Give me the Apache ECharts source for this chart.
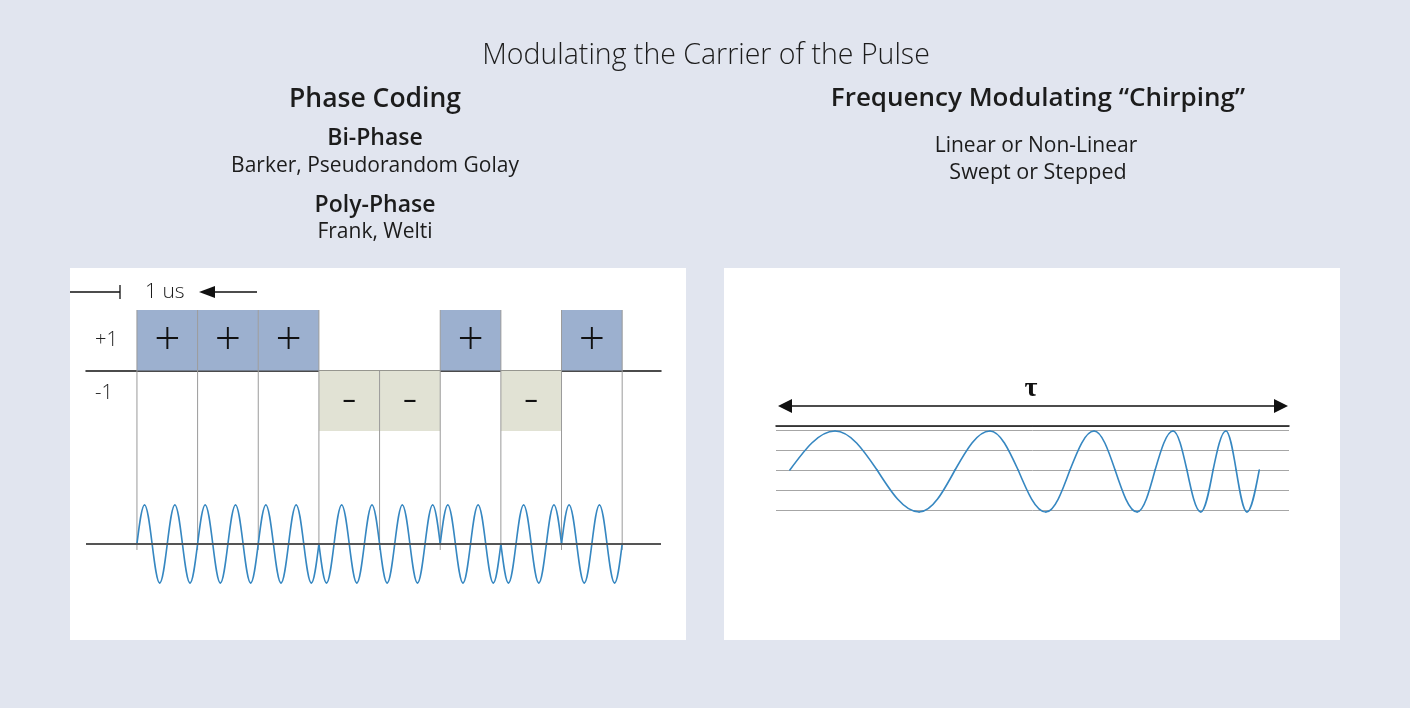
<!DOCTYPE html>
<html>
<head>
<meta charset="utf-8">
<script src="https://cdn.jsdelivr.net/npm/echarts@6/dist/echarts.min.js"></script>
<style>
html,body{margin:0;padding:0;background:#e1e5ef;}
#c{width:1410px;height:708px;}
</style>
</head>
<body>
<div id="c"></div>
<script>
// ---------- texts ----------
const chartTitle = 'Modulating the Carrier of the Pulse';
const phaseHeading = 'Phase Coding';
const phaseSubheads = ['Bi-Phase', 'Poly-Phase'];
const phaseExamples = ['Barker, Pseudorandom Golay', 'Frank, Welti'];
const chirpHeading = 'Frequency Modulating \u201cChirping\u201d';
const chirpLines = ['Linear or Non-Linear', 'Swept or Stepped'];
const levelLabels = ['+1', '-1'];
const chipLabel = '1 us';
const pulseLabel = '\u03c4';

// ---------- phase code (bi-phase, one value per 1 us chip) ----------
const code = [1, 1, 1, -1, -1, 1, -1, 1];
const chipSymbols = { '1': '+', '-1': '-' };
// key points of one carrier cycle: zero, crest, zero, trough
const carrierCycle = [0, 1, 0, -1];
const cyclesPerChip = 2;

// ---------- chirp key points (x: % of pulse width tau, y: amplitude) ----------
const chirpT = [2.7, 11.5, 19.7, 27.9, 34.9, 41.7, 47.2, 52.6, 57.3, 62.0, 66.1,
                70.4, 73.9, 77.4, 80.1, 82.8, 85.2, 87.7, 89.7, 91.8, 94.2];
const chirpA = [0, 1.95, 0, -2.1, 0, 1.95, 0, -2.1, 0, 1.95, 0,
                -2.1, 0, 1.95, 0, -2.1, 0, 1.95, 0, -2.1, 0];

// ---------- layout / style constants ----------
const FONT = '"Open Sans", "Liberation Sans", sans-serif';
const WAVE_BASE = -2.87;
const WAVE_AMP = 0.645;
const LINE_BOTTOM = -2.97;
const BLUE = '#9cb0cf';
const BEIGE = '#e1e2d4';
const WAVE = '#3687c1';

// ---------- derived series data ----------
const chipData = code.map((v, i) => [i, v]);
const boundaryData = [];
for (let j = 0; j <= code.length; j++) {
  const top = ((code[j - 1] || 0) > 0 || (code[j] || 0) > 0) ? 1 : 0;
  boundaryData.push([j, top]);
}
const carrierPts = [];
const ptsPerChip = carrierCycle.length * cyclesPerChip;
code.forEach((v, i) => {
  for (let k = 0; k < ptsPerChip; k++) {
    carrierPts.push([i + k / ptsPerChip, WAVE_BASE + WAVE_AMP * v * carrierCycle[k % carrierCycle.length]]);
  }
});
carrierPts.push([code.length, WAVE_BASE]);
const chirpPts = chirpT.map((t, i) => [t, chirpA[i]]);

// consecutive key points -> quarter-wave segments [x0, y0, x1, y1, midline]
function toSegments(pts, mid) {
  const out = [];
  for (let i = 0; i < pts.length - 1; i++) {
    out.push([pts[i][0], pts[i][1], pts[i + 1][0], pts[i + 1][1], mid]);
  }
  return out;
}
const carrierSegs = toSegments(carrierPts, WAVE_BASE);
const chirpSegs = toSegments(chirpPts, 0);

// draws one quarter of a sine wave between a zero crossing and a crest/trough
function quarterWave(params, api) {
  const x0 = api.value(0), y0 = api.value(1), x1 = api.value(2), y1 = api.value(3), mid = api.value(4);
  const p0 = api.coord([x0, y0]), p1 = api.coord([x1, y1]);
  const dx = p1[0] - p0[0], dy = p1[1] - p0[1];
  let c1, c2;
  if (Math.abs(y0 - mid) < 1e-9) {
    c1 = [p0[0] + 0.3258 * dx, p0[1] + 0.5118 * dy];
    c2 = [p0[0] + 0.6381 * dx, p1[1]];
  } else {
    c1 = [p0[0] + 0.3619 * dx, p0[1]];
    c2 = [p0[0] + 0.6742 * dx, p1[1] - 0.5118 * dy];
  }
  return { type: 'bezierCurve',
    shape: { x1: p0[0], y1: p0[1], x2: p1[0], y2: p1[1], cpx1: c1[0], cpy1: c1[1], cpx2: c2[0], cpy2: c2[1] },
    style: { stroke: WAVE, lineWidth: 1.6, fill: null, lineCap: 'round' } };
}

function txt(text, x, y, size, weight) {
  return {
    type: 'text', x: x, y: y, silent: true,
    style: { text: text, fontSize: size, fontWeight: weight, fontFamily: FONT,
             fill: '#1c1c1c', align: 'center', verticalAlign: 'middle' }
  };
}

const chart = echarts.init(document.getElementById('c'), null, { renderer: 'canvas' });

const option = {
  backgroundColor: '#e1e5ef',
  animation: false,
  grid: [
    { left: 86, top: 310, width: 575, height: 272 },
    { left: 776, top: 426, width: 513, height: 84 }
  ],
  xAxis: [
    { gridIndex: 0, type: 'value', min: -0.84, max: 8.64,
      axisLine: { show: true, onZero: true, lineStyle: { color: '#111', width: 1.5 } },
      axisTick: { show: false }, axisLabel: { show: false }, splitLine: { show: false } },
    { gridIndex: 1, type: 'value', min: 0, max: 100, position: 'top',
      axisLine: { show: true, onZero: false, lineStyle: { color: '#111', width: 1.5 } },
      axisTick: { show: false }, axisLabel: { show: false }, splitLine: { show: false } }
  ],
  yAxis: [
    { gridIndex: 0, type: 'value', min: -3.5, max: 1, interval: 0.125,
      axisLine: { show: false }, axisTick: { show: false }, splitLine: { show: false },
      axisLabel: { show: true, inside: true, margin: 9, fontSize: 20, fontWeight: 300,
        fontFamily: FONT, color: '#222',
        formatter: function (v) {
          if (Math.abs(v - 0.5) < 1e-6) return levelLabels[0];
          if (Math.abs(v + 0.375) < 1e-6) return levelLabels[1];
          return '';
        } } },
    { gridIndex: 1, type: 'value', min: -2, max: 2.2, interval: 1,
      axisLine: { show: false }, axisTick: { show: false }, axisLabel: { show: false },
      splitLine: { show: true, lineStyle: { color: '#a6a6a6', width: 1 } } }
  ],
  series: [
    {
      name: 'chips', type: 'custom', xAxisIndex: 0, yAxisIndex: 0, z: 2,
      data: chipData,
      renderItem: function (params, api) {
        const i = api.value(0), v = api.value(1);
        const p0 = api.coord([i, 0]), p1 = api.coord([i + 1, v]);
        const x = p0[0], w = p1[0] - p0[0];
        const y = Math.min(p0[1], p1[1]), h = Math.abs(p1[1] - p0[1]);
        return { type: 'group', children: [
          { type: 'rect', shape: { x: x, y: y, width: w, height: h },
            style: { fill: v > 0 ? BLUE : BEIGE } },
          { type: 'text', style: { text: chipSymbols[String(v)], x: x + w / 2, y: y + h / 2 + (v > 0 ? 1 : -1),
            align: 'center', verticalAlign: 'middle', fontSize: 46, fontWeight: 300,
            fontFamily: FONT, fill: '#111' } }
        ] };
      }
    },
    {
      name: 'boundaries', type: 'custom', xAxisIndex: 0, yAxisIndex: 0, z: 3,
      data: boundaryData,
      renderItem: function (params, api) {
        const j = api.value(0), top = api.value(1);
        const a = api.coord([j, top]), b = api.coord([j, LINE_BOTTOM]);
        return { type: 'line', shape: { x1: a[0], y1: a[1], x2: b[0], y2: b[1] },
          style: { stroke: '#9a9a9a', lineWidth: 1 } };
      }
    },
    {
      name: 'carrier', type: 'custom', xAxisIndex: 0, yAxisIndex: 0, z: 4,
      encode: { x: [0, 2], y: [1, 3] },
      data: carrierSegs, renderItem: quarterWave, clip: false,
      markLine: { silent: true, symbol: 'none', label: { show: false },
        lineStyle: { color: '#555', width: 2, type: 'solid' },
        data: [{ yAxis: WAVE_BASE }] }
    },
    {
      name: 'chirp', type: 'custom', xAxisIndex: 1, yAxisIndex: 1, z: 4,
      encode: { x: [0, 2], y: [1, 3] },
      data: chirpSegs, renderItem: quarterWave, clip: false
    }
  ],
  graphic: [
    { type: 'rect', z: -10, silent: true, shape: { x: 70, y: 268, width: 616, height: 372 }, style: { fill: '#fff' } },
    { type: 'rect', z: -10, silent: true, shape: { x: 724, y: 268, width: 616, height: 372 }, style: { fill: '#fff' } },
    txt(chartTitle, 706, 56, 28.5, 300),
    txt(phaseHeading, 375, 99, 26.5, 600),
    txt(phaseSubheads[0], 375, 138, 23, 600),
    txt(phaseExamples[0], 375, 166, 21, 400),
    txt(phaseSubheads[1], 375, 205, 23, 600),
    txt(phaseExamples[1], 375, 232, 21, 400),
    txt(chirpHeading, 1038, 99, 26, 600),
    txt(chirpLines[0], 1036, 146, 21, 400),
    txt(chirpLines[1], 1038, 173, 21.5, 400),
    // 1 us dimension marker
    { type: 'line', silent: true, shape: { x1: 70, y1: 292, x2: 120, y2: 292 }, style: { stroke: '#111', lineWidth: 1.3 } },
    { type: 'line', silent: true, shape: { x1: 120, y1: 285, x2: 120, y2: 299 }, style: { stroke: '#111', lineWidth: 1.3 } },
    { type: 'text', silent: true, x: 145, y: 292, style: { text: chipLabel, fontSize: 21, fontWeight: 300,
      fontFamily: FONT, fill: '#1c1c1c', align: 'left', verticalAlign: 'middle' } },
    { type: 'polygon', silent: true, shape: { points: [[199, 292], [215, 286], [215, 298]] }, style: { fill: '#111' } },
    { type: 'line', silent: true, shape: { x1: 214, y1: 292, x2: 257, y2: 292 }, style: { stroke: '#111', lineWidth: 1.3 } },
    // pulse width tau arrow
    { type: 'text', silent: true, x: 1031, y: 389, style: { text: pulseLabel, fontSize: 28, fontWeight: 'bold',
      fontFamily: '"Liberation Serif", "DejaVu Serif", serif', fill: '#111', align: 'center', verticalAlign: 'middle' } },
    { type: 'line', silent: true, shape: { x1: 790, y1: 406, x2: 1276, y2: 406 }, style: { stroke: '#111', lineWidth: 1.5 } },
    { type: 'polygon', silent: true, shape: { points: [[778, 406], [792, 399], [792, 413]] }, style: { fill: '#111' } },
    { type: 'polygon', silent: true, shape: { points: [[1288, 406], [1274, 399], [1274, 413]] }, style: { fill: '#111' } }
  ]
};
chart.setOption(option);
</script>
</body>
</html>
